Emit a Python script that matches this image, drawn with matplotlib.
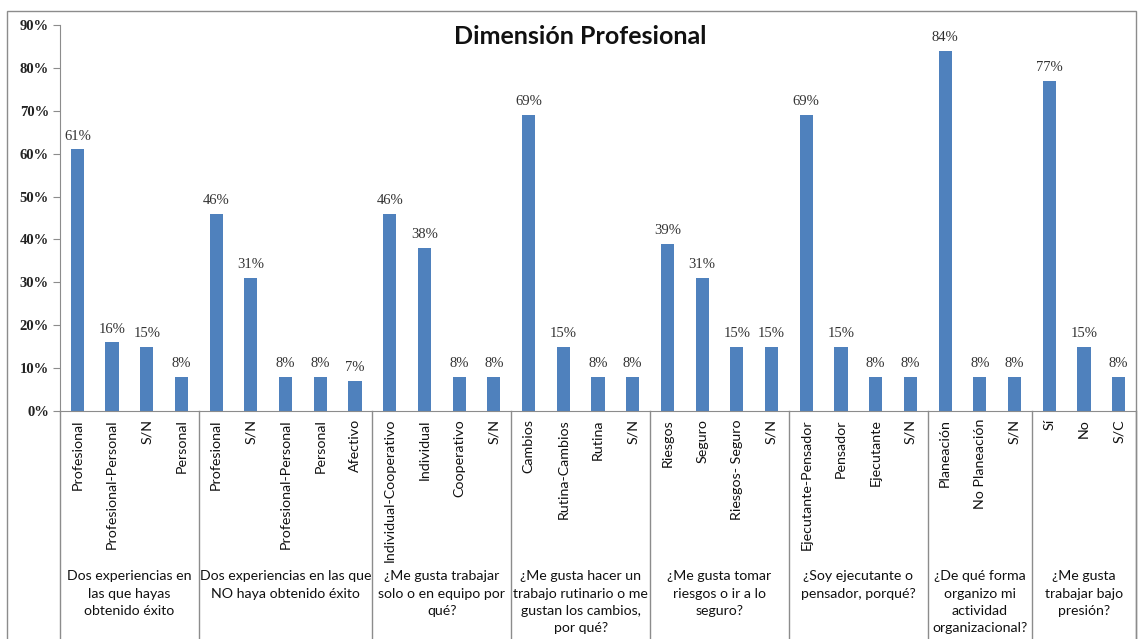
import matplotlib

matplotlib.use("Agg")
import matplotlib.pyplot as plt
from matplotlib.patches import Rectangle

# chart values
groups = [
    "Dos experiencias en\nlas que hayas\nobtenido éxito",
    "Dos experiencias en las que\nNO haya obtenido éxito",
    "¿Me gusta trabajar\nsolo o en equipo por\nqué?",
    "¿Me gusta hacer un\ntrabajo rutinario o me\ngustan los cambios,\npor qué?",
    "¿Me gusta tomar\nriesgos o ir a lo\nseguro?",
    "¿Soy ejecutante o\npensador, porqué?",
    "¿De qué forma\norganizo mi\nactividad\norganizacional?",
    "¿Me gusta\ntrabajar bajo\npresión?",
]
categories = [
    ["Profesional", "Profesional-Personal", "S/N", "Personal"],
    ["Profesional", "S/N", "Profesional-Personal", "Personal", "Afectivo"],
    ["Individual-Cooperativo", "Individual", "Cooperativo", "S/N"],
    ["Cambios", "Rutina-Cambios", "Rutina", "S/N"],
    ["Riesgos", "Seguro", "Riesgos- Seguro", "S/N"],
    ["Ejecutante-Pensador", "Pensador", "Ejecutante", "S/N"],
    ["Planeación", "No Planeación", "S/N"],
    ["Sí", "No", "S/C"],
]
values = [
    [61, 16, 15, 8],
    [46, 31, 8, 8, 7],
    [46, 38, 8, 8],
    [69, 15, 8, 8],
    [39, 31, 15, 15],
    [69, 15, 8, 8],
    [84, 8, 8],
    [77, 15, 8],
]
yticks = [0, 10, 20, 30, 40, 50, 60, 70, 80, 90]

BAR_COLOR = "#4F81BD"
LINE_COLOR = "#8C8C8C"
TEXT_FONT = ["Lato", "DejaVu Sans"]
NUM_FONT = ["Liberation Serif", "DejaVu Serif"]

W, H = 1139, 639
AX_L, AX_R, AX_T, AX_B = 60, 1136, 25, 411

fig = plt.figure(figsize=(W / 100, H / 100), dpi=100)
fig.patches.append(Rectangle((7 / W, -0.01), (1136 - 7) / W, (H - 11) / H + 0.01,
                             transform=fig.transFigure, fill=False,
                             edgecolor=LINE_COLOR, linewidth=1.0))
ax = fig.add_axes([AX_L / W, (H - AX_B) / H, (AX_R - AX_L) / W, (AX_B - AX_T) / H])


def ypx(y):
    # figure pixel row -> axes fraction
    return (AX_B - y) / (AX_B - AX_T)


labels = [c for grp in categories for c in grp]
flat = [v for grp in values for v in grp]
xs = list(range(len(flat)))
ax.bar(xs, flat, width=0.38, color=BAR_COLOR, zorder=2)
for x, v in zip(xs, flat):
    ax.text(x, v + 1.6, f"{v}%", ha="center", va="bottom", fontsize=10.5,
            family=NUM_FONT, color="#333333")

ax.set_xlim(-0.5, len(flat) - 0.5)
ax.set_ylim(0, 90)
ax.set_yticks(yticks)
ax.set_yticklabels([f"{t}%" for t in yticks], family=NUM_FONT, fontsize=10.5,
                   fontweight="bold", color="#222222")
ax.tick_params(axis="y", length=5, color=LINE_COLOR, pad=3)
ax.set_xticks([])
for side in ("top", "right"):
    ax.spines[side].set_visible(False)
for side in ("left", "bottom"):
    ax.spines[side].set_color(LINE_COLOR)

trans = ax.get_xaxis_transform()
for x, lab in zip(xs, labels):
    ax.text(x, ypx(419), lab, rotation=90, ha="center", va="top", fontsize=10.3,
            family=TEXT_FONT, color="#111111", transform=trans, clip_on=False)

start = 0
bounds = [-0.5]
for grp, name in zip(categories, groups):
    end = start + len(grp)
    bounds.append(end - 0.5)
    ax.text((start + end - 1) / 2, ypx(570), name, ha="center", va="top",
            fontsize=10.2, family=TEXT_FONT, color="#111111", linespacing=1.55,
            transform=trans, clip_on=False)
    start = end
for b in bounds:
    ax.plot([b, b], [0, ypx(H + 5)], color=LINE_COLOR, linewidth=1.0,
            transform=trans, clip_on=False)

fig.text(580 / W, (H - 37) / H, "Dimensión Profesional", ha="center", va="center",
         fontsize=18, fontweight="bold", family=TEXT_FONT, color="#111111")

fig.savefig("out.png", dpi=100)
